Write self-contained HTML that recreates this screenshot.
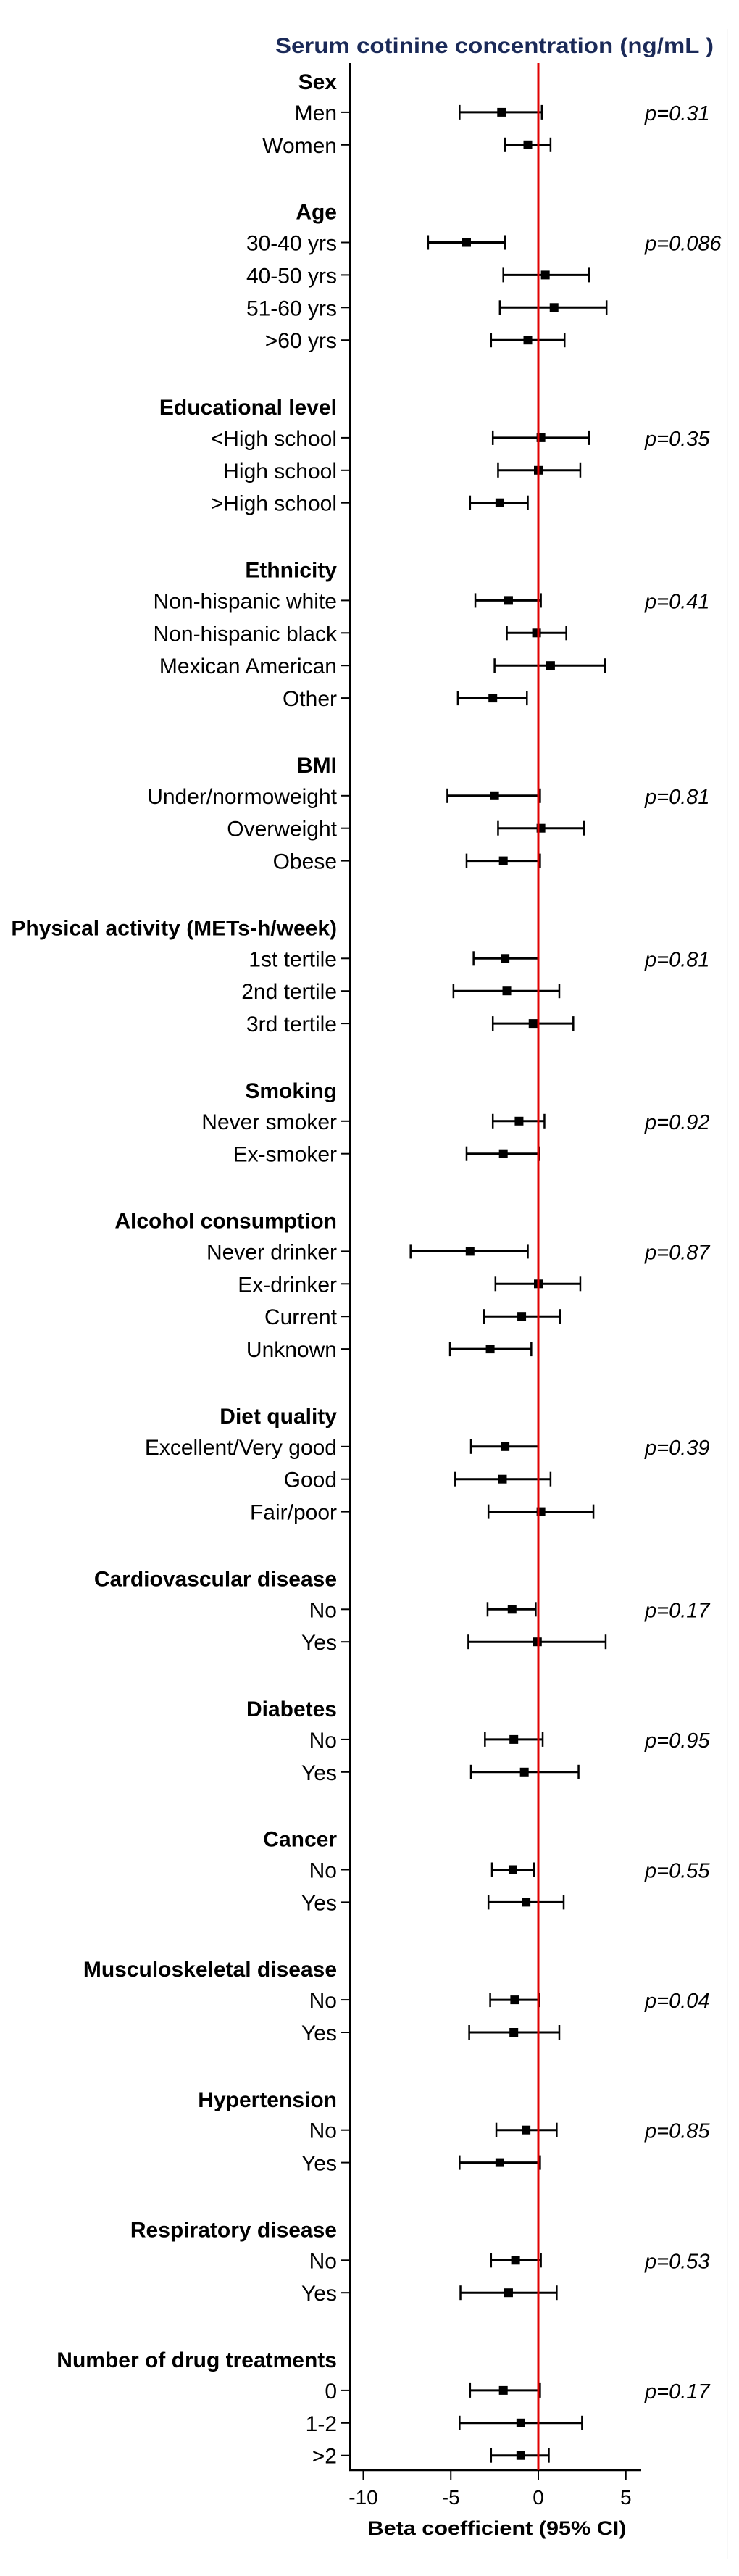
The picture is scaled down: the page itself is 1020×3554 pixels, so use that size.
<!DOCTYPE html>
<html><head><meta charset="utf-8"><style>
html,body{margin:0;padding:0;background:#fff;}
svg{display:block;}
text{font-family:"Liberation Sans",Arial,sans-serif;}
</style></head><body>
<svg id="chart" width="1020" height="3554" viewBox="0 0 1020 3554" xmlns="http://www.w3.org/2000/svg">
<rect x="0" y="0" width="1020" height="3554" fill="#fff"/>
<line x1="1004" y1="40" x2="1004" y2="3530" stroke="#f0f0f0" stroke-width="1"/>
<text x="380" y="73" font-size="30" font-weight="bold" fill="#1b2a58" textLength="605" lengthAdjust="spacingAndGlyphs">Serum cotinine concentration (ng/mL )</text>
<g id="marks"></g>
</svg>
<script>
const groupNames = ["Sex","Age","Educational level","Ethnicity","BMI","Physical activity (METs-h/week)","Smoking","Alcohol consumption","Diet quality","Cardiovascular disease","Diabetes","Cancer","Musculoskeletal disease","Hypertension","Respiratory disease","Number of drug treatments"];
const groupPValues = ["p=0.31","p=0.086","p=0.35","p=0.41","p=0.81","p=0.81","p=0.92","p=0.87","p=0.39","p=0.17","p=0.95","p=0.55","p=0.04","p=0.85","p=0.53","p=0.17"];
const groupItems = [
 ["Men","Women"],
 ["30-40 yrs","40-50 yrs","51-60 yrs",">60 yrs"],
 ["<High school","High school",">High school"],
 ["Non-hispanic white","Non-hispanic black","Mexican American","Other"],
 ["Under/normoweight","Overweight","Obese"],
 ["1st tertile","2nd tertile","3rd tertile"],
 ["Never smoker","Ex-smoker"],
 ["Never drinker","Ex-drinker","Current","Unknown"],
 ["Excellent/Very good","Good","Fair/poor"],
 ["No","Yes"],["No","Yes"],["No","Yes"],["No","Yes"],["No","Yes"],["No","Yes"],
 ["0","1-2",">2"]
];
const estimates = [
 [-2.1,-0.6],[-4.1,0.4,0.9,-0.6],[0.15,0.0,-2.2],[-1.7,-0.1,0.7,-2.6],[-2.5,0.15,-2.0],
 [-1.9,-1.8,-0.3],[-1.1,-2.0],[-3.9,0.0,-0.95,-2.75],[-1.9,-2.05,0.15],[-1.5,-0.05],
 [-1.4,-0.8],[-1.45,-0.7],[-1.35,-1.4],[-0.7,-2.2],[-1.3,-1.7],[-2.0,-1.0,-1.0]
];
const lowerCI = [
 [-4.5,-1.9],[-6.3,-2.0,-2.2,-2.7],[-2.6,-2.3,-3.9],[-3.6,-1.8,-2.5,-4.6],[-5.2,-2.3,-4.1],
 [-3.7,-4.85,-2.6],[-2.6,-4.1],[-7.3,-2.45,-3.1,-5.05],[-3.85,-4.75,-2.85],[-2.9,-4.0],
 [-3.05,-3.85],[-2.65,-2.85],[-2.75,-3.95],[-2.4,-4.5],[-2.7,-4.45],[-3.9,-4.5,-2.7]
];
const upperCI = [
 [0.2,0.7],[-1.9,2.9,3.9,1.5],[2.9,2.4,-0.6],[0.15,1.6,3.8,-0.65],[0.1,2.6,0.1],
 [0.0,1.2,2.0],[0.35,0.05],[-0.6,2.4,1.25,-0.4],[0.0,0.7,3.15],[-0.15,3.85],
 [0.25,2.3],[-0.25,1.45],[0.05,1.2],[1.05,0.1],[0.15,1.05],[0.1,2.5,0.6]
];
const xTicks = [-10,-5,0,5];

const NS="http://www.w3.org/2000/svg";
const g=document.getElementById('marks');
const X0=743, UNIT=24.15;
const xScale=v=>X0+v*UNIT;
const rowY=i=>110+i*44.9;
function mk(tag,attrs,txt){const e=document.createElementNS(NS,tag);for(const k in attrs)e.setAttribute(k,attrs[k]);if(txt!==undefined)e.textContent=txt;g.appendChild(e);return e;}

let ax=mk('line',{x1:483,y1:87,x2:483,y2:3409,stroke:'#000','stroke-width':2});


let bx=mk('line',{x1:482,y1:3408,x2:885,y2:3408,stroke:'#000','stroke-width':2.5});


xTicks.forEach(t=>{
 const tk=mk('line',{x1:xScale(t),y1:3408,x2:xScale(t),y2:3421,stroke:'#000','stroke-width':2});
 
 
 const tl=mk('text',{x:xScale(t),y:3455,'font-size':28,'text-anchor':'middle',fill:'#000'},String(t));
 
 
});
let xl=mk('text',{x:686,y:3497,'font-size':27,'font-weight':'bold','text-anchor':'middle',fill:'#000',textLength:357,lengthAdjust:'spacingAndGlyphs'},'Beta coefficient (95% CI)');



let row=0;
groupNames.forEach((gn,gi)=>{
 const hy=rowY(row);
 const h=mk('text',{x:465,y:hy+13,'font-size':30,'font-weight':'bold','text-anchor':'end',fill:'#000'},gn);
 
 
 row++;
 groupItems[gi].forEach((it,ii)=>{
  const y=rowY(row);
  const lab=mk('text',{x:465,y:y+11,'font-size':30,'text-anchor':'end',fill:'#000'},it);
  
  
  const tk=mk('line',{x1:471,y1:y,x2:483,y2:y,stroke:'#000','stroke-width':2});
  
  
  const lo=xScale(lowerCI[gi][ii]), hi=xScale(upperCI[gi][ii]), pt=xScale(estimates[gi][ii]);
  const ci=mk('line',{x1:lo,y1:y,x2:hi,y2:y,stroke:'#000','stroke-width':3});
  
  
  [lo,hi].forEach(cx=>{
   const c=mk('line',{x1:cx,y1:y-10,x2:cx,y2:y+10,stroke:'#000','stroke-width':2.5});
   
   
  });
  const sq=mk('rect',{x:pt-6,y:y-6,width:12,height:12,fill:'#000'});
  
  
  if(ii===0){
   const p=mk('text',{x:890,y:y+11,'font-size':29,'font-style':'italic',fill:'#000'},groupPValues[gi]);
   
   
  }
  row++;
 });
 row++;
});
let red=mk('line',{x1:X0,y1:87,x2:X0,y2:3408,stroke:'#e00000','stroke-width':3});


</script>
</body></html>
